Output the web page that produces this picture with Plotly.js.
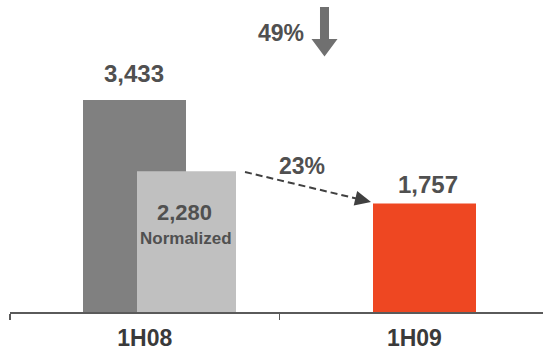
<!DOCTYPE html>
<html>
<head>
<meta charset="utf-8">
<script src="https://cdn.plot.ly/plotly-3.0.1.min.js"></script>
<style>
  html, body { margin: 0; padding: 0; background: #ffffff; }
  #chart { width: 543px; height: 353px; }
</style>
</head>
<body>
<div id="chart"></div>
<script>
// Half-year results: reported and normalized 1H08 versus 1H09
const periods = ['1H08', '1H09'];
const reportedValues = [3433];     // 1H08 as reported
const normalizedValues = [2280];   // 1H08 normalized
const currentValues = [1757];      // 1H09
const normalizedLabel = 'Normalized';
const totalDropLabel = '49%';
const normalizedDropLabel = '23%';

// Page geometry (pixels)
const W = 543, H = 353;
const M = { l: 10, r: 0, t: 0, b: 41 };
const plotW = W - M.l - M.r;
const plotH = H - M.t - M.b;
const catPx = 269.6;                 // pixels per category slot
const unitsPerPx = 16.193;           // value units per vertical pixel

// pixel -> axis / paper coordinates
const catX = px => (px - M.l) / catPx - 0.5;
const paperX = px => (px - M.l) / plotW;
const paperY = py => (M.t + plotH - py) / plotH;

const fmt = v => v.toLocaleString('en-US');
const TEXT = '#505050';
const FONT = 'Liberation Sans, Arial, sans-serif';

const traces = [
  {
    type: 'bar', name: 'Reported',
    x: [periods[0]], y: reportedValues,
    offset: catX(83) - 0, width: catX(186) - catX(83),
    marker: { color: '#808080', line: { width: 0 } },
    hoverinfo: 'skip'
  },
  {
    type: 'bar', name: normalizedLabel,
    x: [periods[0]], y: normalizedValues,
    offset: catX(137) - 0, width: catX(236) - catX(137),
    marker: { color: '#c0c0c0', line: { width: 0 } },
    hoverinfo: 'skip'
  },
  {
    type: 'bar', name: periods[1],
    x: [periods[1]], y: currentValues,
    offset: catX(373) - 1, width: catX(476) - catX(373),
    marker: { color: '#ee4722', line: { width: 0 } },
    hoverinfo: 'skip'
  }
];

// dashed connector with arrow head
const tip = [371, 202], start = [245, 172];
const dx = tip[0] - start[0], dy = tip[1] - start[1];
const len = Math.hypot(dx, dy);
const ux = dx / len, uy = dy / len;
const headLen = 16, headHalf = 7.5;
const bx = tip[0] - ux * headLen, by = tip[1] - uy * headLen;
const p1 = [bx - uy * headHalf, by + ux * headHalf];
const p2 = [bx + uy * headHalf, by - ux * headHalf];
const pt = p => paperX(p[0]).toFixed(5) + ',' + paperY(p[1]).toFixed(5);

// big downward arrow
const downArrow = [[320, 7], [329, 7], [329, 39], [337.5, 39], [324.5, 56.5], [311.5, 39], [320, 39]];

const shapes = [
  {
    type: 'line', xref: 'paper', yref: 'paper',
    x0: paperX(start[0]), y0: paperY(start[1]),
    x1: paperX(bx + ux * 2), y1: paperY(by + uy * 2),
    line: { color: '#404040', width: 2, dash: '7px,4px' }
  },
  {
    type: 'path', xref: 'paper', yref: 'paper',
    path: 'M' + pt(tip) + ' L' + pt(p1) + ' L' + pt(p2) + ' Z',
    fillcolor: '#404040', line: { width: 0 }
  },
  {
    type: 'path', xref: 'paper', yref: 'paper',
    path: 'M' + downArrow.map(pt).join(' L') + ' Z',
    fillcolor: '#707070', line: { width: 0 }
  }
];

const textAnn = (text, px, py, size) => ({
  xref: 'paper', yref: 'paper', x: paperX(px), y: paperY(py),
  xanchor: 'center', yanchor: 'middle', showarrow: false,
  text: '<b>' + text + '</b>', font: { family: FONT, size: size, color: TEXT }
});

const valueAnn = (xCat, value, yShift, size) => ({
  xref: 'x', yref: 'y', x: xCat, y: value,
  xanchor: 'center', yanchor: 'middle', yshift: yShift, showarrow: false,
  text: '<b>' + fmt(value) + '</b>', font: { family: FONT, size: size, color: TEXT }
});

const annotations = [
  valueAnn(catX(134), reportedValues[0], 26, 24),
  valueAnn(catX(428), currentValues[0], 19, 24),
  textAnn(fmt(normalizedValues[0]), 184, 212.5, 22),
  textAnn(normalizedLabel, 186, 239, 17),
  textAnn(totalDropLabel, 281, 33, 23),
  textAnn(normalizedDropLabel, 302, 165.5, 23)
];

const layout = {
  width: W, height: H,
  margin: M,
  paper_bgcolor: '#ffffff', plot_bgcolor: '#ffffff',
  showlegend: false,
  barmode: 'overlay',
  xaxis: {
    type: 'category',
    categoryorder: 'array', categoryarray: periods,
    range: [-0.5, -0.5 + plotW / catPx],
    showline: true, linecolor: '#5a5a5a', linewidth: 1.5,
    ticks: 'outside', tickson: 'boundaries', ticklen: 6, tickwidth: 1.5, tickcolor: '#5a5a5a',
    ticklabelstandoff: 5,
    tickfont: { family: FONT, size: 23, color: '#3a3a3a', weight: 'bold' },
    showgrid: false, zeroline: false, fixedrange: true
  },
  yaxis: {
    range: [0, plotH * unitsPerPx],
    visible: false, showgrid: false, zeroline: false, fixedrange: true
  },
  shapes: shapes,
  annotations: annotations
};

Plotly.newPlot('chart', traces, layout, { displayModeBar: false, staticPlot: true });
</script>
</body>
</html>
